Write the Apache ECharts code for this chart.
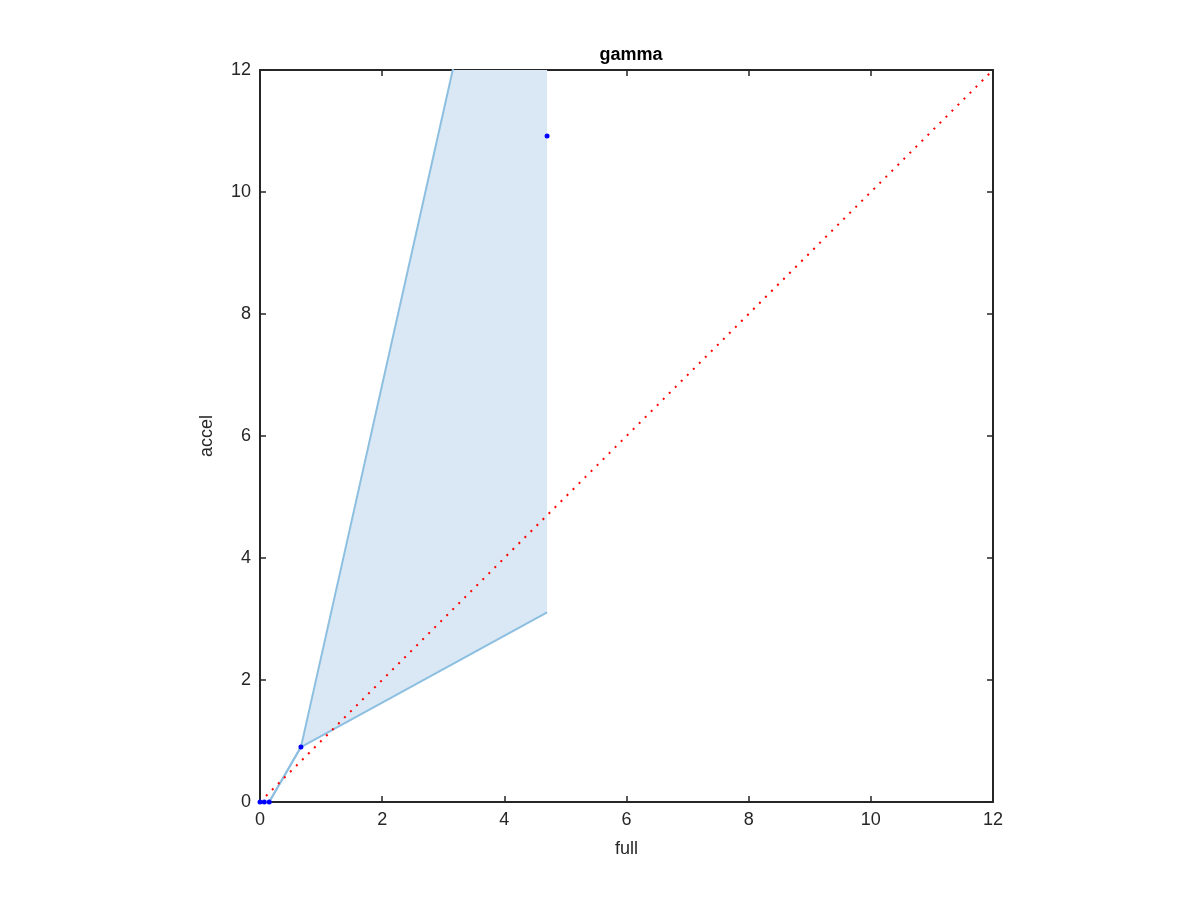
<!DOCTYPE html>
<html><head><meta charset="utf-8">
<script src="https://cdn.jsdelivr.net/npm/echarts@6/dist/echarts.min.js"></script>
<style>html,body{margin:0;padding:0;background:#fff}#c{width:1200px;height:900px}</style>
</head><body><div id="c"></div>
<script>
const pointsX = [0, 0.07, 0.15, 0.67, 4.70];
const pointsY = [0, 0, 0, 0.90, 10.92];
const bandX = [0, 0.07, 0.15, 0.67, 4.70];
const bandUpper = [0, 0, 0, 0.90, 18.9];
const bandLower = [0, 0, 0, 0.90, 3.11];
const diagX = [0, 12];
const tickVals = [0, 2, 4, 6, 8, 10, 12];

const chart = echarts.init(document.getElementById('c'), null, {renderer: 'canvas'});
const font = 'Liberation Sans, Arial, Helvetica, sans-serif';
const axisColor = '#262626';
const baseAxis = {
  type: 'value', min: 0, max: 12, interval: 2,
  axisLine: {show: true, onZero: false, lineStyle: {color: axisColor, width: 2}},
  axisTick: {show: true, inside: true, length: 6, lineStyle: {color: axisColor, width: 1.5}},
  splitLine: {show: false},
  axisLabel: {color: axisColor, fontSize: 18, fontFamily: font, margin: 9}
};
const option = {
  animation: false,
  title: {text: 'gamma', left: 626, top: 41, textAlign: 'center',
    textStyle: {fontSize: 18, fontWeight: 'bold', color: '#000', fontFamily: font}},
  grid: {left: 260, right: 207, top: 70, bottom: 98},
  xAxis: [
    Object.assign({}, baseAxis, {position: 'bottom', name: 'full', nameLocation: 'middle', nameGap: 38,
      nameTextStyle: {fontSize: 18, color: axisColor, fontFamily: font}}),
    Object.assign({}, baseAxis, {position: 'top', axisLabel: {show: false}})
  ],
  yAxis: [
    Object.assign({}, baseAxis, {position: 'left', name: 'accel', nameLocation: 'middle', nameGap: 44,
      nameTextStyle: {fontSize: 18, color: axisColor, fontFamily: font}}),
    Object.assign({}, baseAxis, {position: 'right', axisLabel: {show: false}})
  ],
  series: [
    {
      type: 'custom', xAxisIndex: 0, yAxisIndex: 0, clip: true, z: 1,
      data: [[0, 0]],
      renderItem: function (params, api) {
        const pts = [];
        for (let i = 0; i < bandX.length; i++) pts.push(api.coord([bandX[i], bandUpper[i]]));
        for (let i = bandX.length - 1; i >= 0; i--) pts.push(api.coord([bandX[i], bandLower[i]]));
        const cs = params.coordSys;
        return {
          type: 'polygon', shape: {points: pts},
          style: {fill: '#d9e8f4', stroke: null},
          clipPath: {type: 'rect', shape: {x: cs.x, y: cs.y, width: cs.width, height: cs.height}}
        };
      }
    },
    {
      type: 'line', xAxisIndex: 0, yAxisIndex: 0, z: 2, symbol: 'none', clip: true,
      data: bandX.map((x, i) => [x, bandUpper[i]]),
      lineStyle: {color: '#8dbfe0', width: 2}
    },
    {
      type: 'line', xAxisIndex: 0, yAxisIndex: 0, z: 2, symbol: 'none', clip: true,
      data: bandX.map((x, i) => [x, bandLower[i]]),
      lineStyle: {color: '#8dbfe0', width: 2}
    },
    {
      type: 'line', xAxisIndex: 0, yAxisIndex: 0, z: 3, symbol: 'none',
      data: diagX.map(x => [x, x]),
      lineStyle: {color: '#ff0000', width: 2, type: [2, 6.5]}
    },
    {
      type: 'scatter', xAxisIndex: 0, yAxisIndex: 0, z: 4, symbol: 'circle', symbolSize: 5,
      data: pointsX.map((x, i) => [x, pointsY[i]]),
      itemStyle: {color: '#0000ff', opacity: 1}
    }
  ]
};
chart.setOption(option);
</script></body></html>
